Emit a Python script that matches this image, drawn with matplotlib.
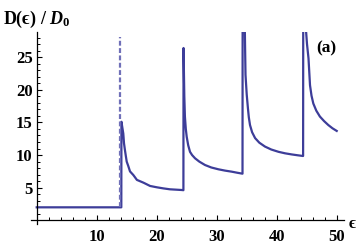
import matplotlib
matplotlib.use("Agg")
import matplotlib.pyplot as plt
from matplotlib.ticker import MultipleLocator, FixedLocator

# data (epsilon, D/D0)
eps = [0.0, 14.1,
       14.12, 14.43, 14.55, 14.7, 14.83, 15.0, 15.27, 15.55, 16.1, 16.7, 17.8,
       18.9, 20.0, 21.1, 22.2, 24.2, 24.45,
       24.47, 24.6, 24.7, 24.85, 25.0, 25.25, 25.55, 25.9, 26.4, 27.1, 28.05,
       29.1, 30.3, 31.4, 32.5, 33.4, 34.3,
       34.32, 34.68, 34.8, 35.0, 35.2, 35.35, 35.55, 35.9, 36.4, 37.1, 38.05,
       39.1, 40.3, 41.4, 42.5, 43.5, 44.4,
       44.42, 44.85, 45.05, 45.3, 45.55, 45.8, 46.1, 46.6, 47.2, 47.9, 48.6,
       49.3, 50.0]
dos = [2.0, 2.0,
       15.1, 13.3, 11.8, 10.8, 10.0, 9.0, 8.3, 7.5, 6.95, 6.2, 5.77,
       5.27, 5.07, 4.9, 4.76, 4.65, 4.62,
       26.4, 19.0, 15.9, 14.0, 12.8, 11.5, 10.5, 10.0, 9.5, 9.0, 8.48,
       8.1, 7.82, 7.62, 7.46, 7.3, 7.15,
       31.0, 29.5, 22.3, 19.3, 17.2, 15.8, 14.6, 13.5, 12.6, 11.9, 11.3,
       10.85, 10.5, 10.27, 10.1, 9.97, 9.86,
       31.0, 29.5, 27.0, 24.8, 20.7, 19.1, 17.9, 16.8, 15.9, 15.2, 14.6,
       14.1, 13.7]
dash_eps = [13.8, 13.8]
dash_dos = [2.0, 28.1]

x_major = [10, 20, 30, 40, 50]
y_major = [5, 10, 15, 20, 25]

plt.rcParams['mathtext.fontset'] = 'custom'
plt.rcParams['mathtext.rm'] = 'Liberation Serif:bold'
plt.rcParams['mathtext.bf'] = 'Liberation Serif:bold'
plt.rcParams['mathtext.it'] = 'Liberation Serif:italic:bold'

fig = plt.figure(figsize=(3.6, 2.49), dpi=100)
ax = fig.add_axes([0.0853, 0.0992, 0.870, 0.7723])

col = '#3d3d99'
ax.plot(eps, dos, color=col, lw=1.6, solid_joinstyle='round')
ax.plot(dash_eps, dash_dos, color='#7070b8', lw=1.6, ls=(0, (2.2, 1.1)))

ax.set_xlim(-1.0, 51.2)
ax.set_ylim(-0.6, 28.85)

for s in ['top', 'right']:
    ax.spines[s].set_visible(False)
ax.spines['left'].set_position(('data', 0))
ax.spines['bottom'].set_position(('data', 0))
for s in ['left', 'bottom']:
    ax.spines[s].set_linewidth(0.9)

ax.xaxis.set_major_locator(FixedLocator(x_major))
ax.xaxis.set_minor_locator(MultipleLocator(2))
ax.yaxis.set_major_locator(FixedLocator(y_major))
ax.yaxis.set_minor_locator(MultipleLocator(1))
ax.tick_params(axis='both', which='major', direction='in', length=3.5, width=0.8)
ax.tick_params(axis='both', which='minor', direction='in', length=2, width=0.7)
ax.tick_params(axis='x', which='major', pad=6.5)
ax.tick_params(axis='y', which='major', pad=3)
for lab in ax.get_xticklabels() + ax.get_yticklabels():
    lab.set_fontfamily('Liberation Serif')
    lab.set_fontweight('bold')
    lab.set_fontsize(12)

fig.text(0.008, 0.965, 'D(ϵ) / $D_0$', family=['Liberation Serif', 'DejaVu Serif'],
         weight='bold', fontsize=13, va='top', ha='left')
fig.text(0.906, 0.805, '(a)', family='Liberation Serif', weight='bold',
         fontsize=12.5, va='center', ha='center')
fig.text(0.978, 0.10, 'ϵ', family=['Liberation Serif', 'DejaVu Serif'],
         weight='bold', fontsize=12, va='center', ha='center')

fig.savefig('out.png', dpi=100)
